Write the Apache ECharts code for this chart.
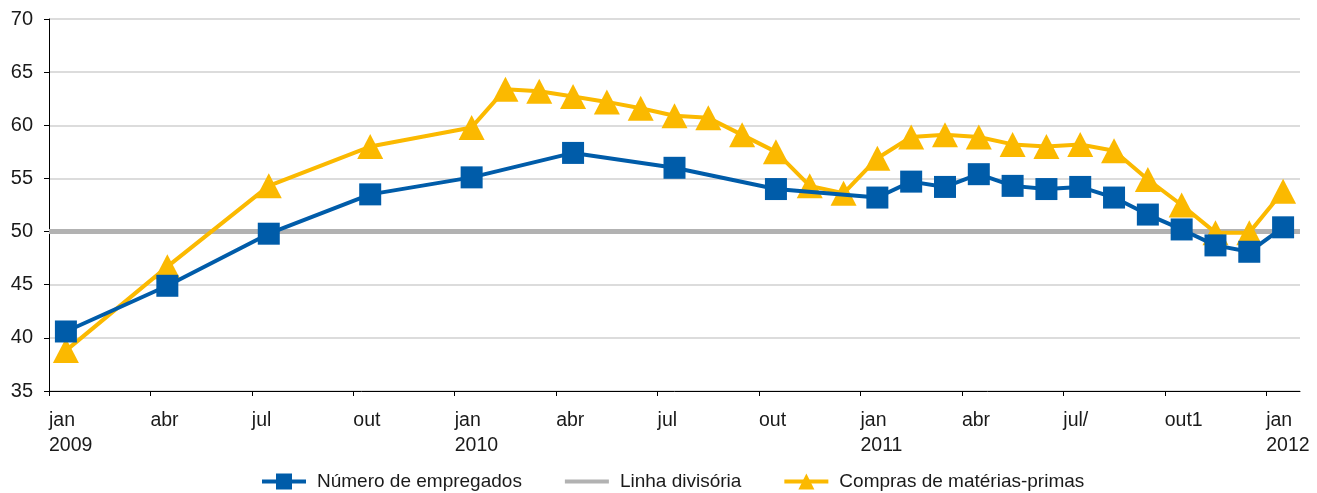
<!DOCTYPE html>
<html>
<head>
<meta charset="utf-8">
<script src="https://cdn.jsdelivr.net/npm/echarts@6/dist/echarts.min.js"></script>
<style>
  html, body { margin: 0; padding: 0; background: #fff; }
  #main { width: 1317px; height: 493px; }
</style>
</head>
<body>
<div id="main"></div>
<script>
// meses de jan/2009 a jan/2012 (37 meses), índice 0 = jan 2009
var tickLabels = ['jan\n2009', 'abr', 'jul', 'out', 'jan\n2010', 'abr', 'jul', 'out',
                  'jan\n2011', 'abr', 'jul/', 'out1', 'jan\n2012'];

// Número de empregados (trimestral até jan/2011, depois mensal)
var empregados = [
  40.6, null, null, 44.9, null, null, 49.8, null, null, 53.5, null, null,
  55.1, null, null, 57.4, null, null, 56.0, null, null, 54.0, null, null,
  53.2, 54.7, 54.2, 55.4, 54.3, 54.0, 54.2, 53.2, 51.6, 50.2, 48.7, 48.1,
  50.4
];

// Compras de matérias-primas
var compras = [
  38.8, null, null, 46.7, null, null, 54.3, null, null, 58.0, null, null,
  59.8, 63.4, 63.2, 62.7, 62.2, 61.6, 60.9, 60.7, 59.1, 57.5, 54.3, 53.6,
  56.9, 58.9, 59.1, 58.9, 58.2, 58.0, 58.2, 57.6, 54.9, 52.5, 49.9, 49.9,
  53.8
];

// Linha divisória
var linhaDivisoria = 50;

var nMeses = empregados.length;

function toPoints(arr) {
  var out = [];
  for (var i = 0; i < arr.length; i++) {
    if (arr[i] != null) out.push([i + 0.5, arr[i]]);
  }
  return out;
}

var tickValues = [];
for (var t = 0; t < tickLabels.length; t++) tickValues.push(t * 3);

var txt = '#1a1a1a';
var font = 'Liberation Sans, Arial, sans-serif';
var azul = '#005ca9', amarelo = '#fbb900', cinza = '#b2b2b2';

var option = {
  animation: false,
  textStyle: { fontFamily: font },
  grid: { left: 49, right: 17, top: 19, bottom: 102 },
  legend: {
    left: 260,
    top: 472,
    padding: 0,
    itemWidth: 44,
    itemHeight: 20,
    itemGap: 41,
    textStyle: { fontSize: 19, color: txt, fontFamily: font, padding: [0, 0, 0, 6] },
    data: [
      { name: 'Número de empregados', lineStyle: { width: 4, color: azul } },
      { name: 'Linha divisória', lineStyle: { width: 4, color: cinza }, itemStyle: { opacity: 0 } },
      { name: 'Compras de matérias-primas', lineStyle: { width: 4, color: amarelo } }
    ]
  },
  xAxis: {
    type: 'value',
    min: 0,
    max: nMeses,
    interval: 3,
    axisLine: { show: true, lineStyle: { color: '#000', width: 1 } },
    axisTick: { show: true, length: 5, customValues: tickValues, lineStyle: { color: '#000' } },
    splitLine: { show: false },
    axisLabel: {
      customValues: tickValues,
      align: 'left',
      margin: 17,
      fontSize: 19.5,
      lineHeight: 25,
      color: txt,
      fontFamily: font,
      formatter: function (v) { return tickLabels[Math.round(v / 3)] || ''; }
    }
  },
  yAxis: {
    type: 'value',
    min: 35,
    max: 70,
    interval: 5,
    axisLine: { show: true, lineStyle: { color: '#000', width: 1 } },
    axisTick: { show: true, length: 5, lineStyle: { color: '#000' } },
    splitLine: { show: true, lineStyle: { color: '#dcdcdc', width: 2 } },
    axisLabel: { fontSize: 20, color: txt, margin: 16, fontFamily: font }
  },
  series: [
    {
      name: 'Linha divisória',
      type: 'line',
      symbol: 'none',
      z: 1,
      lineStyle: { color: cinza, width: 5 },
      itemStyle: { color: cinza },
      data: [[0, linhaDivisoria], [nMeses, linhaDivisoria]]
    },
    {
      name: 'Número de empregados',
      type: 'line',
      connectNulls: true,
      symbol: 'rect',
      symbolSize: 22,
      z: 3,
      lineStyle: { color: azul, width: 4 },
      itemStyle: { color: azul },
      data: toPoints(empregados)
    },
    {
      name: 'Compras de matérias-primas',
      type: 'line',
      connectNulls: true,
      symbol: 'triangle',
      symbolSize: [26, 25],
      z: 2,
      lineStyle: { color: amarelo, width: 4 },
      itemStyle: { color: amarelo },
      data: toPoints(compras)
    }
  ]
};

var myChart = echarts.init(document.getElementById('main'));
myChart.setOption(option);
</script>
</body>
</html>
